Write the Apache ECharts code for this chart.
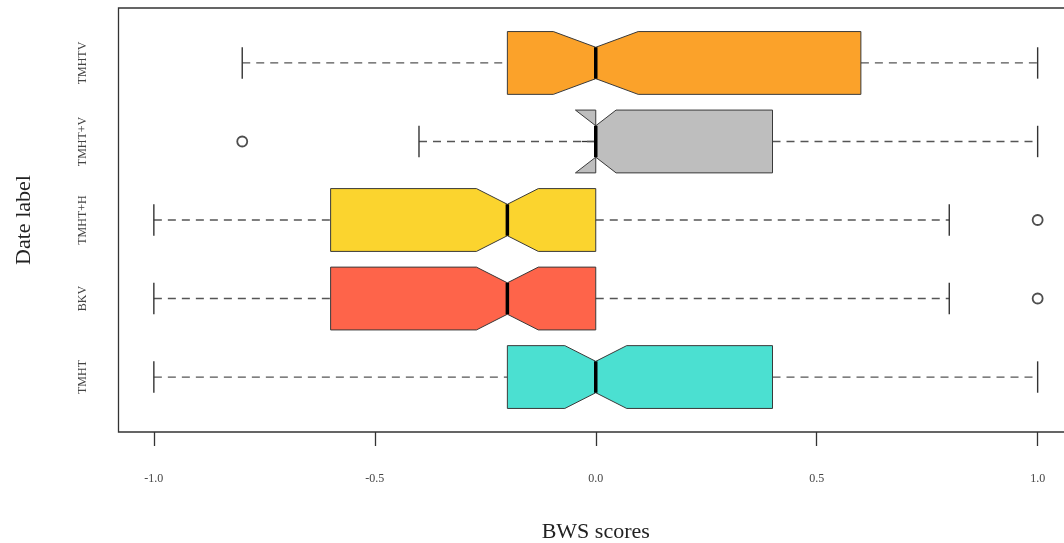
<!DOCTYPE html>
<html>
<head>
<meta charset="utf-8">
<script src="https://cdn.jsdelivr.net/npm/echarts@6/dist/echarts.min.js"></script>
<style>
  html, body { margin: 0; padding: 0; background: #fff; }
  #main { width: 1064px; height: 543px; }
</style>
</head>
<body>
<div id="main"></div>
<script>
// one entry per group, bottom to top
var categories = ['TMHT', 'BKV', 'TMHT+H', 'TMHT+V', 'TMHTV'];
var whiskerLow = [-1.0, -1.0, -1.0, -0.4, -0.8];
var q1 = [-0.2, -0.6, -0.6, 0.0, -0.2];
var median = [0.0, -0.2, -0.2, 0.0, 0.0];
var q3 = [0.4, 0.0, 0.0, 0.4, 0.6];
var whiskerHigh = [1.0, 0.8, 0.8, 1.0, 1.0];
var notchLow = [-0.07, -0.27, -0.27, -0.046, -0.096];
var notchHigh = [0.07, -0.13, -0.13, 0.046, 0.096];
var boxColors = ['#4BE0D1', '#FE644A', '#FBD42E', '#BEBEBE', '#FBA22A'];

// outliers: group name + score
var outlierGroups = ['TMHT+V', 'TMHT+H', 'BKV'];
var outlierValues = [-0.8, 1.0, 1.0];

var xTicks = [-1.0, -0.5, 0.0, 0.5, 1.0];

var boxData = categories.map(function (c, i) {
  return [i + 1, whiskerLow[i], q1[i], median[i], q3[i], whiskerHigh[i], notchLow[i], notchHigh[i]];
});
var outlierData = outlierGroups.map(function (g, i) {
  return [outlierValues[i], categories.indexOf(g) + 1];
});

var serif = 'Liberation Serif, Times New Roman, serif';

function renderBox(params, api) {
  var y = api.value(0);
  var lo = api.value(1), a = api.value(2), m = api.value(3), b = api.value(4), hi = api.value(5);
  var nl = api.value(6), nh = api.value(7);
  var p = function (x, dy) { return api.coord([x, y + dy]); };
  var half = 0.4, narrow = 0.2, cap = 0.2;
  var dashStyle = { stroke: '#555', lineWidth: 1.3, lineDash: [8, 6] };
  var solid = { stroke: '#333', lineWidth: 1.4 };
  var pts = [
    p(a, half), p(nl, half), p(m, narrow), p(nh, half), p(b, half),
    p(b, -half), p(nh, -half), p(m, -narrow), p(nl, -half), p(a, -half)
  ];
  var c0 = p(lo, 0), c1 = p(a, 0), c2 = p(b, 0), c3 = p(hi, 0);
  return {
    type: 'group',
    children: [
      { type: 'line', shape: { x1: c0[0], y1: c0[1], x2: c1[0], y2: c1[1] }, style: dashStyle },
      { type: 'line', shape: { x1: c2[0], y1: c2[1], x2: c3[0], y2: c3[1] }, style: dashStyle },
      { type: 'line', shape: { x1: c0[0], y1: p(lo, cap)[1], x2: c0[0], y2: p(lo, -cap)[1] }, style: solid },
      { type: 'line', shape: { x1: c3[0], y1: p(hi, cap)[1], x2: c3[0], y2: p(hi, -cap)[1] }, style: solid },
      { type: 'polygon', shape: { points: pts },
        style: { fill: boxColors[params.dataIndex], stroke: '#3a3a3a', lineWidth: 1 } },
      { type: 'line', shape: { x1: p(m, 0)[0], y1: p(m, narrow)[1], x2: p(m, 0)[0], y2: p(m, -narrow)[1] },
        style: { stroke: '#000', lineWidth: 3.5 } }
    ]
  };
}

var myChart = echarts.init(document.getElementById('main'));
var option = {
  animation: false,
  backgroundColor: '#fff',
  grid: {
    left: 118.5, top: 8, width: 954.5, height: 424,
    outerBoundsMode: 'none',
    containLabel: false,
    show: true, borderColor: '#333', borderWidth: 1.3, backgroundColor: 'transparent'
  },
  xAxis: {
    type: 'value',
    min: -1.08,
    max: 1.08,
    name: 'BWS scores',
    nameLocation: 'middle',
    nameGap: 89,
    nameTextStyle: { fontFamily: serif, fontSize: 22, color: '#222' },
    axisLine: { show: false },
    splitLine: { show: false },
    axisTick: { show: true, customValues: xTicks, length: 14, lineStyle: { color: '#333', width: 1.3 } },
    axisLabel: {
      customValues: xTicks, margin: 41, fontFamily: serif, fontSize: 12, color: '#444',
      formatter: function (v) { return v.toFixed(1); }
    }
  },
  yAxis: {
    type: 'value',
    min: 0.3,
    max: 5.7,
    name: 'Date label',
    nameLocation: 'middle',
    nameRotate: 90,
    nameGap: 83,
    nameTextStyle: { fontFamily: serif, fontSize: 22, color: '#222' },
    axisLine: { show: false },
    splitLine: { show: false },
    axisTick: { show: true, customValues: [1, 2, 3, 4, 5], length: 14, lineStyle: { color: '#333', width: 1.3 } },
    axisLabel: {
      customValues: [1, 2, 3, 4, 5], rotate: 90, margin: 30, fontFamily: serif, fontSize: 12, color: '#444',
      formatter: function (v) { return categories[Math.round(v) - 1]; }
    }
  },
  series: [
    {
      type: 'custom',
      renderItem: renderBox,
      encode: { x: [1, 2, 3, 4, 5, 6, 7], y: 0 },
      data: boxData,
      silent: true
    },
    {
      type: 'scatter',
      data: outlierData,
      symbol: 'circle',
      symbolSize: 10,
      itemStyle: { color: '#fff', borderColor: '#222', borderWidth: 1.8 },
      silent: true
    }
  ]
};
myChart.setOption(option);
</script>
</body>
</html>
